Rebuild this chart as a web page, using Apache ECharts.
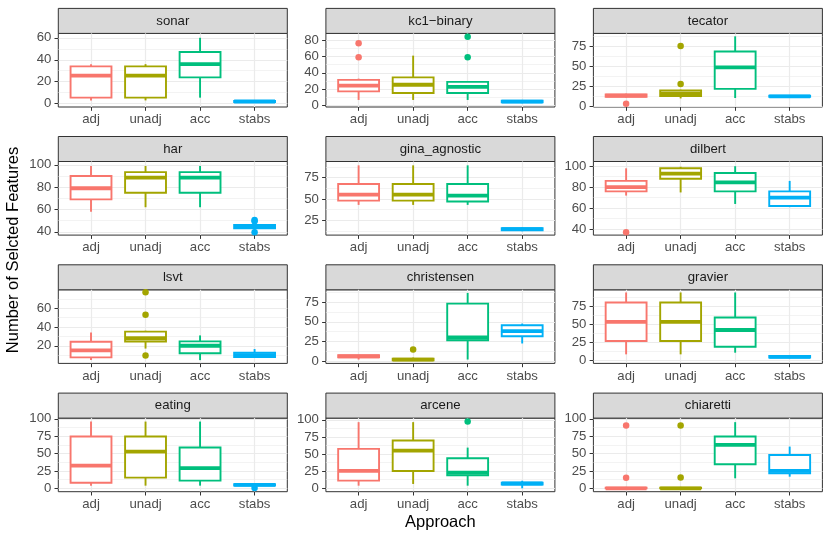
<!DOCTYPE html>
<html>
<head>
<meta charset="utf-8">
<title>Number of selected features by approach</title>
<script src="https://cdn.jsdelivr.net/npm/echarts@6/dist/echarts.min.js"></script>
<style>
  html, body { margin: 0; padding: 0; background: #fff; }
  #chart { width: 830px; height: 540px; }
</style>
</head>
<body>
<div id="chart"></div>
<script>
var approaches = ['adj', 'unadj', 'acc', 'stabs'];
var datasets = ['sonar', 'kc1\u2212binary', 'tecator', 'har', 'gina_agnostic', 'dilbert',
                'lsvt', 'christensen', 'gravier', 'eating', 'arcene', 'chiaretti'];

// per dataset, per approach: [lower whisker, Q1, median, Q3, upper whisker]
var boxStats = [
  [[3, 5.5, 25.5, 34, 36], [3, 5.5, 25.5, 34, 36], [5.5, 24, 36, 47, 60], [1, 1.5, 2, 2.5, 3]],
  [[7, 17.5, 24.5, 31.5, 33], [7, 15.5, 25.5, 34.5, 61], [7, 15.5, 23, 29, 30], [3, 4, 5, 6, 7]],
  [[11, 12, 13.5, 15, 16], [10, 13, 16, 20, 21], [10.5, 22, 49, 69, 88], [11, 12, 12.5, 13.5, 14]],
  [[58, 69, 79, 90, 99], [62, 75, 88.5, 93.5, 99], [62, 75, 88.5, 93.5, 99], [41.5, 43, 44.5, 46, 47.5]],
  [[43, 48, 55, 67.5, 89.5], [43, 48, 55, 67.5, 89.5], [43, 47, 54, 67.5, 89.5], [12, 13, 14.5, 15.5, 16.5]],
  [[72, 76, 80, 86, 98], [75, 88, 93, 98, 99.5], [64, 76, 84.5, 93.5, 100], [61, 62, 70, 76, 86]],
  [[4.7, 7.6, 15, 24.3, 34], [17, 24.5, 28, 35, 36], [4.7, 12, 20, 24.7, 31], [7, 8, 10, 12.5, 16.5]],
  [[2, 5, 6, 7.5, 8], [0.5, 1, 2, 3, 4.5], [2, 26.5, 30, 73, 86.6], [22.4, 31.6, 38, 45.6, 47.7]],
  [[8.4, 27, 53.5, 80.6, 94.5], [8.4, 27, 53.5, 80.6, 94.5], [10.7, 19, 42.3, 59.6, 94.5], [3, 4, 5, 6, 7]],
  [[3.8, 8, 32.6, 74.5, 96], [3.8, 15.3, 52.8, 74.5, 96], [3.8, 11, 28.9, 58.6, 96], [3, 4, 5, 6, 7]],
  [[3.8, 11.2, 25.5, 57.5, 96.6], [6.3, 25.3, 55, 69.7, 96.6], [3.8, 19, 22.8, 43.9, 59.4], [0, 5.5, 7, 8, 11]],
  [[0, 0, 0, 1, 2], [0, 0, 0, 1, 2], [14.4, 34.6, 62.5, 74.5, 95.2], [16.7, 21.6, 25, 48, 60]]
];

// outlying points: [approach index, value]
var outliers = [
  [],
  [[0, 76], [0, 59], [2, 84], [2, 59]],
  [[0, 3.4], [1, 76], [1, 28]],
  [[3, 50.5], [3, 49.5], [3, 39.5]],
  [],
  [[0, 37]],
  [[1, 77], [1, 53], [1, 9.7]],
  [[1, 14.8]],
  [],
  [[3, 0.5]],
  [[2, 97.5]],
  [[0, 90.3], [0, 15.3], [1, 90.3], [1, 15.5]]
];

var yLimits = [
  [-3, 64], [-1.6, 88.1], [-0.8, 91.7], [37, 103], [7.5, 94], [34.3, 104.5],
  [1.2, 79.6], [-2.9, 90.6], [-4.2, 98.2], [-4.9, 101], [-5, 102.5], [-4.9, 101]
];

var yBreaks = [
  [0, 20, 40, 60], [0, 20, 40, 60, 80], [0, 25, 50, 75], [40, 60, 80, 100],
  [25, 50, 75], [40, 60, 80, 100], [20, 40, 60], [0, 25, 50, 75],
  [0, 25, 50, 75], [0, 25, 50, 75, 100], [0, 25, 50, 75, 100], [0, 25, 50, 75, 100]
];

var colors = ['#F8766D', '#A3A500', '#00BF7D', '#00B0F6'];
var font = 'Liberation Sans, Arial, Helvetica, sans-serif';

var panelLeft = [58.3, 325.9, 593.4];
var panelTop = [33.4, 161.5, 289.8, 418.1];
var panelW = 229, panelH = 73.6, stripH = 25;

function minorBreaks(br, lim) {
  var step = br[1] - br[0];
  var out = [br[0] - step / 2];
  br.forEach(function (b) { out.push(b + step / 2); });
  return out.filter(function (v) { return v > lim[0] && v < lim[1]; });
}

function renderBox(params, api) {
  var x = api.value(0);
  var lo = api.coord([x, api.value(1)]);
  var q1 = api.coord([x, api.value(2)]);
  var med = api.coord([x, api.value(3)]);
  var q3 = api.coord([x, api.value(4)]);
  var hi = api.coord([x, api.value(5)]);
  var half = api.size([0.75, 0])[0] / 2;
  var col = colors[x];
  var thin = { stroke: col, lineWidth: 1.9, fill: null };
  return {
    type: 'group',
    children: [
      { type: 'line', shape: { x1: lo[0], y1: lo[1], x2: q1[0], y2: q1[1] }, style: thin },
      { type: 'line', shape: { x1: q3[0], y1: q3[1], x2: hi[0], y2: hi[1] }, style: thin },
      { type: 'rect', shape: { x: q1[0] - half, y: q3[1], width: half * 2, height: q1[1] - q3[1] },
        style: { fill: '#fff', stroke: col, lineWidth: 1.9 } },
      { type: 'line', shape: { x1: med[0] - half, y1: med[1], x2: med[0] + half, y2: med[1] },
        style: { stroke: col, lineWidth: 3.8 } }
    ]
  };
}

var grids = [], xAxes = [], yAxes = [], series = [], graphics = [];
var xPos = [0, 1, 2, 3];

datasets.forEach(function (name, i) {
  var L = panelLeft[i % 3], T = panelTop[Math.floor(i / 3)];
  grids.push({
    left: L, top: T, width: panelW, height: panelH,
    show: true, backgroundColor: '#fff', borderColor: '#333333', borderWidth: 1
  });
  xAxes.push({
    gridIndex: i, type: 'value', min: -0.6, max: 3.6, position: 'bottom',
    axisLine: { show: false, onZero: false },
    axisTick: { show: true, length: 3.8, lineStyle: { color: '#333333', width: 1 }, customValues: xPos },
    axisLabel: {
      customValues: xPos, color: '#4D4D4D', fontSize: 13.2, fontFamily: font, margin: 6,
      formatter: function (v) { return approaches[Math.round(v)]; }
    },
    splitLine: { show: true, lineStyle: { color: '#EBEBEB', width: 1.2 } }
  });
  yAxes.push({
    gridIndex: i, type: 'value', position: 'left', min: yLimits[i][0], max: yLimits[i][1],
    axisLine: { show: false, onZero: false },
    axisTick: { show: true, length: 3.8, lineStyle: { color: '#333333', width: 1 }, customValues: yBreaks[i] },
    axisLabel: { customValues: yBreaks[i], color: '#4D4D4D', fontSize: 13.2, fontFamily: font, margin: 7 },
    splitLine: { show: true, lineStyle: { color: '#EBEBEB', width: 1.2 } }
  });
  yAxes.push({
    gridIndex: i, type: 'value', position: 'left', min: yLimits[i][0], max: yLimits[i][1],
    axisLine: { show: false, onZero: false },
    axisTick: { show: false, customValues: minorBreaks(yBreaks[i], yLimits[i]) },
    axisLabel: { show: false },
    splitLine: { show: true, lineStyle: { color: '#EBEBEB', width: 0.6 } }
  });

  series.push({
    type: 'custom', xAxisIndex: i, yAxisIndex: 2 * i,
    renderItem: renderBox, silent: true,
    encode: { x: 0, y: [1, 2, 3, 4, 5] },
    data: boxStats[i].map(function (s, k) { return [k].concat(s); })
  });
  series.push({
    type: 'scatter', xAxisIndex: i, yAxisIndex: 2 * i, silent: true,
    symbol: 'circle', symbolSize: 6.5, z: 3,
    itemStyle: { opacity: 1, color: function (p) { return colors[p.value[0]]; } },
    data: outliers[i]
  });

  graphics.push({
    type: 'rect', silent: true,
    shape: { x: L, y: T - stripH, width: panelW, height: stripH },
    style: { fill: '#D9D9D9', stroke: '#333333', lineWidth: 1 }
  });
  graphics.push({
    type: 'text', silent: true, x: L + panelW / 2, y: T - stripH / 2,
    style: { text: name, fill: '#1A1A1A', font: '13.2px ' + font, align: 'center', verticalAlign: 'middle' }
  });
});

graphics.push({
  type: 'text', silent: true, x: 13, y: 250, rotation: Math.PI / 2,
  style: { text: 'Number of Selcted Features', fill: '#000', font: '16.5px ' + font, align: 'center', verticalAlign: 'middle' }
});
graphics.push({
  type: 'text', silent: true, x: 440.4, y: 522,
  style: { text: 'Approach', fill: '#000', font: '16.5px ' + font, align: 'center', verticalAlign: 'middle' }
});

var myChart = echarts.init(document.getElementById('chart'), null, { renderer: 'canvas' });
myChart.setOption({
  backgroundColor: '#fff',
  animation: false,
  grid: grids,
  xAxis: xAxes,
  yAxis: yAxes,
  series: series,
  graphic: graphics
});
</script>
</body>
</html>
